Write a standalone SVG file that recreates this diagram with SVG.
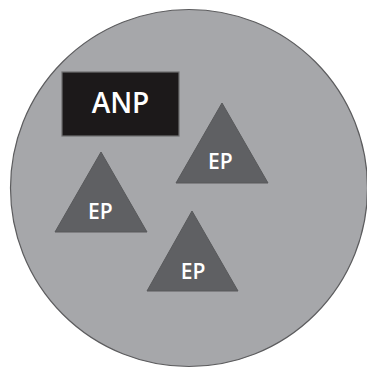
<svg xmlns="http://www.w3.org/2000/svg" width="367" height="368" viewBox="0 0 367 368">
<style>
.tri{fill:#5f6063;stroke:#58595b;stroke-width:1}
.lbl{font-family:"Open Sans","Liberation Sans",sans-serif;font-weight:600;fill:#ffffff;text-anchor:middle}
</style>
<rect width="367" height="368" fill="#ffffff"/>
<g id="circle"><circle cx="189" cy="188" r="178.5" fill="#a6a7aa" stroke="#5c5c5e" stroke-width="1.2"/></g>
<g id="anp">
<rect x="62" y="72" width="117" height="64" fill="#1c191a" stroke="#6e6e70" stroke-width="1.2"/>
<text class="lbl" x="120.5" y="113.3" font-size="28">ANP</text>
</g>
<g id="ep1">
<polygon class="tri" points="101,152 147,232 55,232"/>
<text class="lbl" x="100.3" y="219.3" font-size="21">EP</text>
</g>
<g id="ep2">
<polygon class="tri" points="222,103 268,183 176,183"/>
<text class="lbl" x="220.3" y="169.3" font-size="21">EP</text>
</g>
<g id="ep3">
<polygon class="tri" points="192,211 238,291 147,291"/>
<text class="lbl" x="193" y="278.5" font-size="21">EP</text>
</g>
<g id="connectors"/>
</svg>
